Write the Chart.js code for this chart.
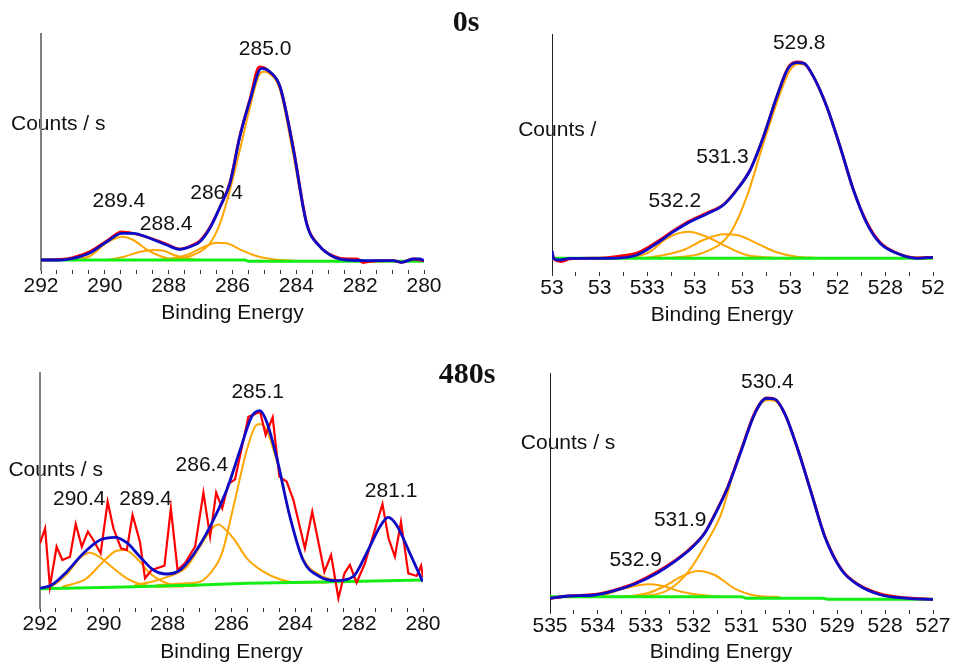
<!DOCTYPE html>
<html>
<head>
<meta charset="utf-8">
<title>XPS C 1s / O 1s fits</title>
<script src="https://cdn.jsdelivr.net/npm/chart.js@4.4.0/dist/chart.umd.min.js"></script>
<style>
  body { margin: 0; background: #fff; }
  #wrap { position: relative; width: 962px; height: 666px; }
  #wrap canvas { position: absolute; left: 0; top: 0; }
</style>
</head>
<body>
<div id="wrap">
  <canvas id="c1s0" width="962" height="666"></canvas>
  <canvas id="o1s0" width="962" height="666"></canvas>
  <canvas id="c1s480" width="962" height="666"></canvas>
  <canvas id="o1s480" width="962" height="666"></canvas>
</div>
<script>
// ---- C 1s, 0 s  [binding energy, counts (arb.)]
const c1s0Env = [[292.0,10],[291.4,10],[291.0,11.7],[290.46,17.3],[289.94,28.3],[289.47,36.7],[289.11,36.7],[288.59,31.7],[288.06,25],[287.65,20.7],[287.33,23.3],[287.02,28.3],[286.71,41.7],[286.39,63.3],[286.08,86.7],[285.77,133.3],[285.45,170],[285.09,201.7],[284.83,198.3],[284.51,183.3],[284.1,122],[283.68,46.7],[283.26,23.3],[282.84,13.3],[282.42,10],[281.59,9.3],[280.96,9.3],[280.7,7.7],[280.34,11],[280.13,11],[280.0,9.3]];
const c1s0Raw = [[292.0,10],[291.4,10.5],[291.0,12.5],[290.46,18.5],[289.94,29],[289.47,38],[289.11,36.5],[288.59,32],[288.06,25.8],[287.65,21],[287.33,23.8],[287.02,29.3],[286.71,42.5],[286.39,63],[286.08,87.5],[285.77,134],[285.45,171],[285.16,203],[284.83,198],[284.51,183],[284.1,123],[283.68,47.5],[283.26,23.5],[282.84,14],[282.42,11],[282.1,11.2],[281.9,7.5],[281.59,9],[280.96,9.3],[280.7,7.7],[280.34,11],[280.0,9.3]];
const c1s0Bg = [[292,10],[285.6,10],[285.5,8.7],[280,8.7]];
const c1s0Comp = [
  [[291.5,10],[290.9,11],[290.46,14],[289.94,27.3],[289.47,33.3],[289.11,30],[288.7,20.7],[288.27,14],[287.86,10.7],[287.3,10]],
  [[289.9,10],[289.4,13.3],[288.89,18.3],[288.48,20],[288.16,19.3],[287.86,15.3],[287.44,11.7],[287.02,10],[286.6,10]],
  [[288.4,10],[288.06,10.7],[287.44,15],[286.92,22.7],[286.5,27.3],[286.18,26.7],[285.77,20.7],[285.25,14],[284.73,10.7],[284.1,9.3],[283.5,9]],
  [[288.3,10],[287.86,10.7],[287.23,15],[286.71,26.7],[286.39,46.7],[286.08,80],[285.77,120],[285.45,163.3],[285.19,193.3],[285.03,198.3],[284.88,197.3],[284.51,180],[284.1,116],[283.68,46.7],[283.26,23.3],[282.84,12.7],[282.42,10],[281.8,9.3]]
];
const c1s0Labels = [['285.0',284.98,220.7],['289.4',289.56,68.3],['288.4',288.08,46],['286.4',286.5,76.7]];

// ---- O 1s, 0 s
const o1s0Env = [[535.0,21.3],[534.97,13.7],[534.83,12],[534.62,13.7],[533.78,13.7],[533.22,17],[532.8,28.7],[532.45,40.3],[532.1,50.3],[531.75,58],[531.4,67],[531.12,82],[530.84,102],[530.56,135.3],[530.28,175.3],[530.04,203.7],[529.86,209.3],[529.71,208.7],[529.51,195.3],[529.23,165.3],[528.95,125.3],[528.67,82],[528.39,48.7],[528.11,28.7],[527.76,18.7],[527.34,13.7],[527.0,14.7]];
const o1s0Raw = [[535.0,20],[534.95,12.5],[534.8,10.5],[534.62,13.2],[533.9,14.2],[533.5,16.5],[533.22,19],[532.8,30],[532.45,41.3],[532.1,51.3],[531.75,59],[531.4,67.5],[531.12,82.5],[530.84,102],[530.56,135.3],[530.28,175.3],[530.04,204.5],[529.86,210],[529.71,208.7],[529.51,195.3],[529.23,165.3],[528.95,125.3],[528.67,82],[528.39,49.5],[528.11,29.5],[527.76,19],[527.34,14.2],[527.0,14.7]];
const o1s0Bg = [[535,13.7],[527,13.7]];
const o1s0Comp = [
  [[533.6,13.7],[533.29,14.7],[532.94,20.3],[532.59,33.7],[532.14,40.3],[531.75,35.3],[531.33,25.3],[530.91,17],[530.49,14.7],[530.0,13.7]],
  [[533.3,13.7],[532.94,14.7],[532.24,22],[531.82,32],[531.4,37.7],[531.12,37],[530.7,28.7],[530.28,19.7],[529.86,15.3],[529.51,14.3],[529.0,13.7]],
  [[532.8,13.7],[532.38,14.7],[531.82,19.3],[531.26,38.7],[530.91,75.3],[530.56,128.7],[530.21,178.7],[530.0,202],[529.83,208],[529.69,207.3],[529.51,195],[529.23,165],[528.95,125],[528.67,82],[528.39,48.7],[528.11,28.7],[527.76,18.7],[527.34,13.7],[527.0,13.7]]
];
const o1s0Labels = [['529.8',529.81,228.7],['531.3',531.42,114.3],['532.2',532.42,70.3]];
const o1s0TickText = ['53','53','533','53','53','53','52','528','52'];   // 535 ... 527, as printed

// ---- C 1s, 480 s
const c1s480Raw = [[292.0,64.7],[291.84,79.7],[291.69,21.3],[291.48,61.3],[291.3,48],[291.06,51.3],[290.88,84],[290.69,61.3],[290.5,76.3],[290.33,68],[290.1,54.7],[289.88,106.3],[289.7,79.7],[289.46,59.7],[289.28,58],[289.1,93],[288.87,66.3],[288.71,29.7],[288.5,38],[288.1,42.3],[287.9,99.7],[287.69,38],[287.46,44.7],[287.14,61.3],[286.88,115.3],[286.67,71.3],[286.48,115.3],[286.29,99.7],[286.1,124],[285.89,128.7],[285.47,191.3],[285.21,194.7],[285.1,196],[284.93,173],[284.71,190.7],[284.5,131.3],[284.27,126.3],[284.06,108],[283.7,59.7],[283.47,96.3],[283.09,36],[282.88,53],[282.65,9.7],[282.46,34.7],[282.29,43],[282.08,25.3],[281.82,44.7],[281.27,104],[281.08,69.7],[280.88,51.3],[280.69,86.3],[280.46,34.7],[280.2,32],[280.06,42.3],[280.0,30.7]];
const c1s480Env = [[292.0,19.7],[291.63,23],[291.16,36.3],[290.64,54.7],[290.12,68],[289.65,70.7],[289.28,65.3],[288.87,51.3],[288.45,38],[288.03,34],[287.61,38],[287.2,53],[286.67,81.3],[286.15,118],[285.73,158],[285.37,191.3],[285.11,197.3],[284.9,186.3],[284.59,151.3],[284.17,91.3],[283.76,48],[283.23,31.3],[282.71,27.3],[282.19,31.3],[281.77,54.7],[281.35,81.3],[281.09,90.7],[280.83,83],[280.41,54.7],[280.01,26.3]];
const c1s480Bg = [[292,19.3],[289.7,20.7],[287.0,23],[285.5,24.7],[282.7,26.3],[280,28]];
const c1s480Comp = [
  [[292.0,19.7],[291.6,22.5],[291.13,35],[290.75,50],[290.43,55.3],[290.12,50.7],[289.7,39.7],[289.28,29.7],[288.87,24],[288.34,21.3],[287.5,21.5]],
  [[291.3,21.3],[290.57,29],[290.02,46.3],[289.6,57.3],[289.34,58],[288.97,49.7],[288.56,34.7],[288.14,26.3],[287.61,22],[287.09,22]],
  [[289.03,23],[288.5,26.3],[287.98,31.3],[287.4,41.3],[286.99,61.3],[286.6,80],[286.41,83.5],[286.36,83],[285.94,69.7],[285.52,49.7],[285.0,36.3],[284.48,28.7],[283.85,25.3],[283.0,25.5]],
  [[288.34,23],[287.4,24.7],[286.99,26.3],[286.67,34.7],[286.3,54.7],[285.94,101.3],[285.52,158],[285.25,182],[285.11,184],[284.9,178],[284.59,148],[284.17,91.3],[283.76,49.7],[283.23,33],[282.71,28],[282.2,27]],
  [[282.71,27.3],[282.19,31.3],[281.77,54.7],[281.35,81.3],[281.09,90.7],[280.83,83],[280.41,54.7],[280.01,26.3]]
];
const c1s480Labels = [['285.1',285.18,215.3],['286.4',286.93,143],['290.4',290.77,108.7],['289.4',288.69,108.7],['281.1',281.0,117]];

// ---- O 1s, 480 s
const o1s480Env = [[535.0,11.7],[534.62,14],[534.07,15],[533.65,19.3],[533.23,26],[532.75,37.3],[532.4,48.3],[532.05,61.7],[531.77,76.7],[531.56,95],[531.28,123.3],[531.0,160],[530.72,196.7],[530.48,211.7],[530.31,211],[530.1,196.7],[529.82,160],[529.54,116.7],[529.26,73.3],[528.91,40],[528.56,25],[528.08,15],[527.52,11.7],[527.0,10.7]];
const o1s480Raw = [[535.0,11.5],[534.62,14],[534.07,15.5],[533.65,20],[533.23,26.8],[532.75,38.5],[532.4,49],[532.05,62.5],[531.77,77],[531.56,95.5],[531.28,124],[531.0,161],[530.72,197.5],[530.48,212],[530.31,211],[530.1,196.7],[529.82,160],[529.54,117],[529.26,73.8],[528.91,40.5],[528.56,25.5],[528.08,15.8],[527.52,12],[527.0,10.7]];
const o1s480Bg = [[535,13.3],[531.0,13.3],[530.9,11.7],[529.3,11.7],[529.2,10.7],[527,10.7]];
const o1s480Comp = [
  [[534.5,13.3],[534.0,14],[533.44,21.7],[532.95,25.7],[532.67,24.3],[532.26,18.3],[531.84,15],[531.4,13.3]],
  [[533.6,13.3],[533.3,14],[532.95,17],[532.6,24],[532.26,33.3],[531.91,39],[531.56,35],[531.15,21.7],[530.66,14],[530.2,13]],
  [[533.5,13.3],[533.09,14],[532.53,20],[532.11,38.3],[531.7,70],[531.42,96.7],[531.15,140],[530.86,180],[530.59,206.7],[530.45,210],[530.31,209.3],[530.1,196.7],[529.82,160],[529.54,116.7],[529.26,73.3],[528.91,40],[528.56,25],[528.08,15],[527.52,11.7],[527.0,10.7]]
];
const o1s480Labels = [['530.4',530.46,227.7],['531.9',532.28,90],['532.9',533.21,49.3]];

const FONT = "'Liberation Sans', Arial, Helvetica, sans-serif";
const SERIF = "'Liberation Serif', 'Times New Roman', serif";
const FS = 21;
const COL = { raw: '#ff0000', env: '#0c0cc8', comp: '#ffa500', bg: '#14ee14', ink: '#111' };

// free texts (peak positions, y title, time stamp) placed in data coordinates
const panelText = {
  id: 'panelText',
  beforeDraw(chart, args, opts) {
    const { ctx, scales: { x, y } } = chart;
    ctx.save();
    ctx.fillStyle = COL.ink;
    ctx.textBaseline = 'middle';
    (opts.items || []).forEach(t => {
      ctx.font = t.font || `${FS}px ${FONT}`;
      ctx.textAlign = t.align || 'center';
      ctx.fillText(t.text, x.getPixelForValue(t.at[0]), y.getPixelForValue(t.at[1]));
    });
    ctx.restore();
  }
};

function line(pts, color, width, smooth) {
  return {
    data: pts.map(([x, y]) => ({ x, y })),
    borderColor: color,
    borderWidth: width,
    pointRadius: 0,
    fill: false,
    tension: 0,
    cubicInterpolationMode: smooth ? 'monotone' : 'default'
  };
}

function panel(id, p) {
  const H = Math.round(p.titleY + FS * 0.6 - p.area.bottom);
  const datasets = [
    line(p.env, COL.env, 2.8, true),
    line(p.raw, COL.raw, p.rawWidth || 2.8, !p.noisy),
    line(p.bg, COL.bg, 3, false),
    ...p.comps.map(c => line(c, COL.comp, 2, true))
  ];
  const items = p.labels.map(([text, e, v]) => ({ text, at: [e, v] }))
    .concat([{ text: p.yTitle, at: p.yTitleAt, align: 'left' }]);
  if (p.stamp) items.push({ text: p.stamp, at: p.stampAt, font: `bold 30px ${SERIF}` });

  return new Chart(document.getElementById(id), {
    type: 'line',
    data: { datasets },
    plugins: [panelText],
    options: {
      responsive: false,
      animation: false,
      events: [],
      layout: {
        padding: {
          left: p.area.left,
          top: p.area.top,
          right: 962 - p.area.right,
          bottom: 666 - p.area.bottom - H
        }
      },
      scales: {
        x: {
          type: 'linear',
          reverse: true,
          min: p.xMin,
          max: p.xMax,
          afterFit: s => { s.height = H; },
          border: { display: false },
          grid: { drawOnChartArea: false, drawTicks: true, tickLength: 4, color: '#333', lineWidth: 1 },
          ticks: {
            stepSize: 0.5,
            autoSkip: false,
            maxRotation: 0,
            minRotation: 0,
            padding: 0,
            color: COL.ink,
            font: { family: FONT, size: FS },
            callback: p.tickText
          },
          title: {
            display: true,
            text: p.xTitle,
            color: COL.ink,
            padding: 0,
            font: { family: FONT, size: FS }
          }
        },
        y: {
          min: 0,
          max: p.yMax,
          afterFit: s => { s.width = 0; },
          ticks: { display: false },
          grid: { display: false },
          border: { display: true, color: p.axisColor, width: p.axisWidth }
        }
      },
      plugins: {
        legend: { display: false },
        tooltip: { enabled: false },
        panelText: { items }
      }
    }
  });
}

const everyTwo = v => (v % 2 === 0 ? String(v) : '');
const everyOne = v => (v % 1 === 0 ? String(v) : '');
const printedO1s = v => (v % 1 === 0 ? o1s0TickText[535 - v] : '');

panel('c1s0', {
  area: { left: 41, top: 34, right: 424, bottom: 270 }, titleY: 313,
  xMin: 280, xMax: 292, yMax: 236, tickText: everyTwo, xTitle: 'Binding Energy',
  axisColor: '#808080', axisWidth: 2,
  env: c1s0Env, raw: c1s0Raw, bg: c1s0Bg, comps: c1s0Comp, labels: c1s0Labels,
  yTitle: 'Counts / s', yTitleAt: [292.94, 146],
  stamp: '0s', stampAt: [278.68, 247]
});

panel('o1s0', {
  area: { left: 552, top: 34, right: 933, bottom: 272 }, titleY: 315,
  xMin: 527, xMax: 535, yMax: 238, tickText: printedO1s, xTitle: 'Binding Energy' + ' '.repeat(7),
  axisColor: '#222', axisWidth: 1,
  env: o1s0Env, raw: o1s0Raw, bg: o1s0Bg, comps: o1s0Comp, labels: o1s0Labels,
  yTitle: 'Counts /', yTitleAt: [535.71, 142]
});

panel('c1s480', {
  area: { left: 40, top: 373, right: 423, bottom: 608 }, titleY: 652,
  xMin: 280, xMax: 292, yMax: 235, tickText: everyTwo, xTitle: 'Binding Energy',
  axisColor: '#808080', axisWidth: 2,
  env: c1s480Env, raw: c1s480Raw, bg: c1s480Bg, comps: c1s480Comp, labels: c1s480Labels,
  rawWidth: 2.2, noisy: true,
  yTitle: 'Counts / s', yTitleAt: [292.99, 137.3],
  stamp: '480s', stampAt: [278.62, 233]
});

panel('o1s480', {
  area: { left: 550, top: 373, right: 933, bottom: 610 }, titleY: 652,
  xMin: 527, xMax: 535, yMax: 237, tickText: everyOne, xTitle: 'Binding Energy' + ' '.repeat(7),
  axisColor: '#222', axisWidth: 1,
  env: o1s480Env, raw: o1s480Raw, bg: o1s480Bg, comps: o1s480Comp, labels: o1s480Labels,
  yTitle: 'Counts / s', yTitleAt: [535.61, 167]
});
</script>
</body>
</html>
